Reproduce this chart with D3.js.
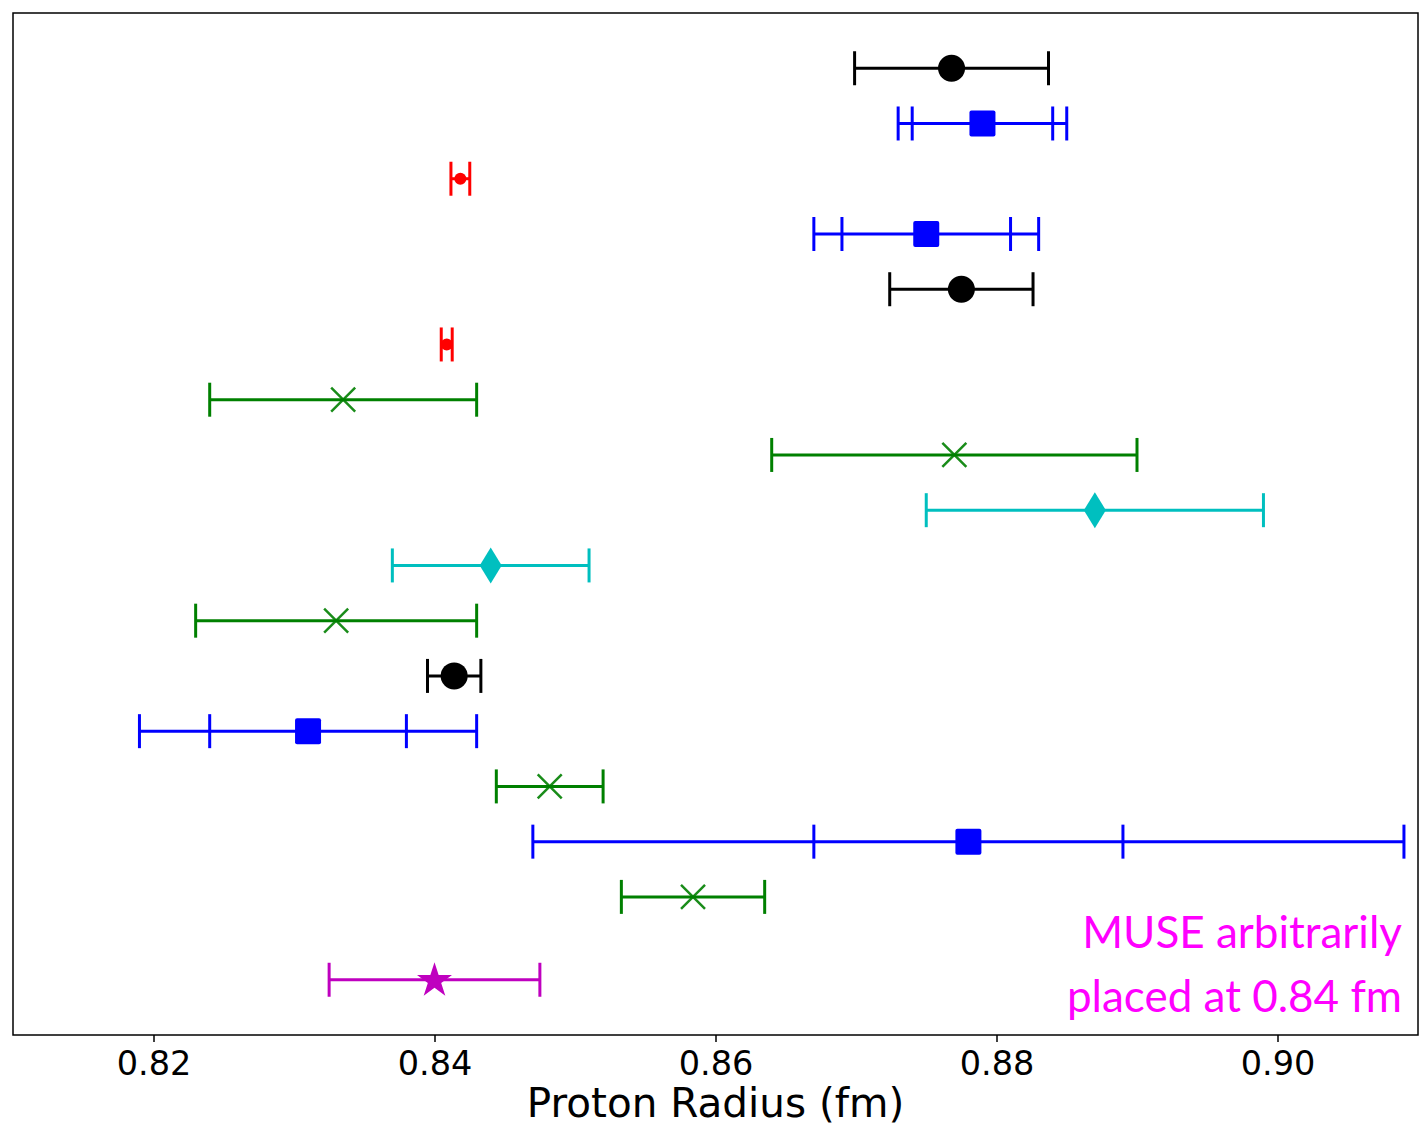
<!DOCTYPE html>
<html>
<head>
<meta charset="utf-8">
<script src="https://cdn.jsdelivr.net/npm/d3@7"></script>
<style>
  html, body { margin: 0; padding: 0; background: #fff; }
  svg { display: block; }
</style>
</head>
<body>
<svg id="chart" width="1422" height="1130"></svg>
<script>
// Proton charge radius determinations, one row per result (top to bottom).
const rowIndex = [0, 1, 2, 3, 4, 5, 6, 7, 8, 9, 10, 11, 12, 13, 14, 15, 16.5];
const method = [
  "codata", "scattering", "muonic", "scattering", "codata", "muonic",
  "hydrogen", "hydrogen", "reanalysis", "reanalysis", "hydrogen", "codata",
  "scattering", "hydrogen", "scattering", "hydrogen", "muse"
];
const radius = [
  0.8768, 0.879, 0.84184, 0.875, 0.8775, 0.84087,
  0.8335, 0.877, 0.887, 0.844, 0.833, 0.8414,
  0.831, 0.8482, 0.878, 0.8584, 0.840
];
// total uncertainty (outer caps)
const errTotal = [
  0.0069, 0.006, 0.00067, 0.008, 0.0051, 0.00039,
  0.0095, 0.013, 0.012, 0.007, 0.010, 0.0019,
  0.012, 0.0038, 0.031, 0.0051, 0.0075
];
// statistical uncertainty (inner caps), null where only one bar is drawn
const errStat = [
  null, 0.005, null, 0.006, null, null,
  null, null, null, null, null, null,
  0.007, null, 0.011, null, null
];
const xTicks = [0.82, 0.84, 0.86, 0.88, 0.90];
const noteLines = ["MUSE arbitrarily", "placed at 0.84 fm"];

// drawing styles per method
const style = {
  codata:     { color: "#000000", marker: "circle" },
  scattering: { color: "#0000ff", marker: "square" },
  muonic:     { color: "#ff0000", marker: "dot" },
  hydrogen:   { color: "#008000", marker: "x" },
  reanalysis: { color: "#00bfbf", marker: "thinDiamond" },
  muse:       { color: "#bf00bf", marker: "star" }
};

const svg = d3.select("#chart");
const plot = { left: 13, top: 13, right: 1418, bottom: 1035 };

const x = d3.scaleLinear().domain([0.81, 0.91]).range([plot.left, plot.right]);
const y = d3.scaleLinear().domain([-1, 17.5]).range([plot.top, plot.bottom]);

const data = rowIndex.map((r, i) => ({
  row: r, method: method[i], value: radius[i], total: errTotal[i], stat: errStat[i]
}));

const capHalf = 17;
const g = svg.append("g");

// error bars
const bars = g.selectAll("g.bar").data(data).join("g").attr("class", "bar")
  .attr("stroke", d => style[d.method].color)
  .attr("stroke-width", 3)
  .attr("fill", "none");

bars.append("line")
  .attr("x1", d => x(d.value - d.total))
  .attr("x2", d => x(d.value + d.total))
  .attr("y1", d => y(d.row)).attr("y2", d => y(d.row));

bars.each(function (d) {
  const ends = [d.value - d.total, d.value + d.total];
  if (d.stat != null) ends.push(d.value - d.stat, d.value + d.stat);
  d3.select(this).selectAll("line.cap").data(ends).join("line").attr("class", "cap")
    .attr("x1", v => x(v)).attr("x2", v => x(v))
    .attr("y1", y(d.row) - capHalf).attr("y2", y(d.row) + capHalf);
});

// markers
const markers = g.selectAll("g.mk").data(data).join("g").attr("class", "mk")
  .attr("transform", d => `translate(${x(d.value)},${y(d.row)})`);

markers.each(function (d) {
  const s = style[d.method];
  const m = d3.select(this);
  switch (s.marker) {
    case "circle":
      m.append("circle").attr("r", 13.5).attr("fill", s.color);
      break;
    case "square":
      m.append("rect").attr("x", -13).attr("y", -13).attr("width", 26).attr("height", 26)
        .attr("rx", 2).attr("fill", s.color);
      break;
    case "dot":
      m.append("circle").attr("r", 6).attr("fill", s.color);
      break;
    case "x":
      m.append("path").attr("d", "M-12,-12L12,12M-12,12L12,-12")
        .attr("stroke", s.color).attr("stroke-width", 2.5).attr("fill", "none")
        .attr("opacity", 0.9);
      break;
    case "thinDiamond":
      m.append("path").attr("d", "M0,-18L11,0L0,18L-11,0Z").attr("fill", s.color);
      break;
    case "star":
      m.append("path").attr("d", d3.symbol(d3.symbolStar, 380)()).attr("fill", s.color)
        .attr("transform", "translate(0,1)");
      break;
  }
});

// frame
svg.append("rect")
  .attr("x", plot.left).attr("y", plot.top)
  .attr("width", plot.right - plot.left).attr("height", plot.bottom - plot.top)
  .attr("fill", "none").attr("stroke", "#000").attr("stroke-width", 1.5);

// x axis
const axis = svg.append("g")
  .attr("transform", `translate(0,${plot.bottom})`)
  .call(d3.axisBottom(x).tickValues(xTicks).tickFormat(d3.format(".2f"))
    .tickSize(7).tickPadding(9));
axis.select(".domain").remove();
axis.selectAll(".tick line").attr("stroke", "#000").attr("stroke-width", 1.5);
axis.selectAll(".tick text")
  .attr("font-family", "DejaVu Sans").attr("font-size", 33.5).attr("fill", "#000");

svg.append("text")
  .attr("x", (plot.left + plot.right) / 2).attr("y", 1117)
  .attr("text-anchor", "middle")
  .attr("font-family", "DejaVu Sans").attr("font-size", 40.5).attr("fill", "#000")
  .text("Proton Radius (fm)");

// annotation
svg.append("g").selectAll("text").data(noteLines).join("text")
  .attr("x", 1402).attr("y", (d, i) => 948 + i * 64)
  .attr("text-anchor", "end")
  .attr("font-family", "Lato").attr("font-size", 44).attr("fill", "#ff00ff")
  .text(d => d);
</script>
</body>
</html>
